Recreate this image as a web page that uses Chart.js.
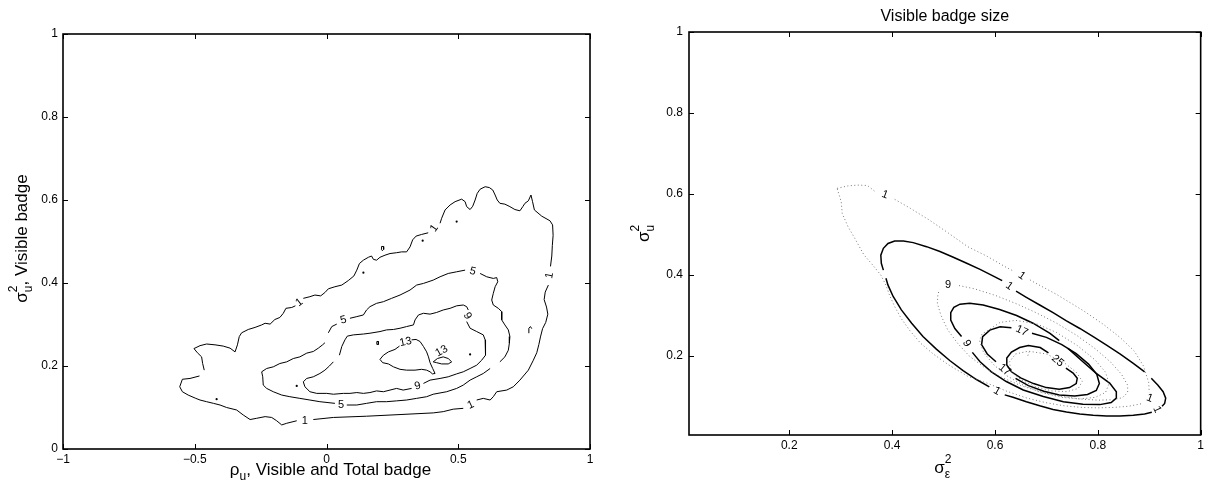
<!DOCTYPE html>
<html>
<head>
<meta charset="utf-8">
<script src="https://cdn.jsdelivr.net/npm/chart.js@4.4.1/dist/chart.umd.min.js"></script>
<style>
html, body { margin: 0; padding: 0; background: #fff; }
#wrap { position: relative; width: 1207px; height: 490px; overflow: hidden; }
canvas { position: absolute; top: 0; }
</style>
</head>
<body>
<div id="wrap">
  <canvas id="left" width="600" height="490" style="left:0;width:600px;height:490px"></canvas>
  <canvas id="right" width="607" height="490" style="left:600px;width:607px;height:490px"></canvas>
</div>
<script>
// ---------- tick values and labels ----------
const leftXTicks = [-1, -0.5, 0, 0.5, 1];
const leftXTickLabels = ['\u22121', '\u22120.5', '0', '0.5', '1'];
const leftYTicks = [0, 0.2, 0.4, 0.6, 0.8, 1];
const leftYTickLabels = ['0', '0.2', '0.4', '0.6', '0.8', '1'];
const rightXTicks = [0.2, 0.4, 0.6, 0.8, 1];
const rightXTickLabels = ['0.2', '0.4', '0.6', '0.8', '1'];
const rightYTicks = [0.2, 0.4, 0.6, 0.8, 1];
const rightYTickLabels = ['0.2', '0.4', '0.6', '0.8', '1'];

// ---------- left panel: contour levels 1, 5, 9, 13 (null = break for a label) ----------
const level1Left = [
  [-0.482,0.176],[-0.518,0.170],[-0.547,0.168],[-0.557,0.150],[-0.547,0.138],[-0.525,0.130],[-0.496,0.122],
  [-0.480,0.118],[-0.455,0.114],[-0.429,0.110],[-0.404,0.106],[-0.379,0.100],[-0.341,0.094],[-0.316,0.082],
  [-0.290,0.071],[-0.265,0.074],[-0.233,0.078],[-0.208,0.076],[-0.189,0.068],[-0.170,0.058],[-0.151,0.062],
  [-0.113,0.068],null,[-0.050,0.071],[0.026,0.076],[0.152,0.079],[0.279,0.083],[0.405,0.087],[0.443,0.090],
  [0.481,0.096],[0.519,0.098],null,[0.570,0.118],[0.595,0.122],[0.621,0.118],[0.633,0.126],[0.646,0.138],
  [0.684,0.142],[0.709,0.150],[0.734,0.166],[0.766,0.190],[0.785,0.214],[0.798,0.232],[0.806,0.252],
  [0.812,0.270],[0.820,0.290],[0.832,0.305],[0.840,0.325],[0.835,0.342],[0.826,0.360],[0.830,0.378],
  [0.842,0.395],null,[0.850,0.440],[0.855,0.465],[0.857,0.490],[0.860,0.515],[0.858,0.540],[0.848,0.550],
  [0.817,0.561],[0.789,0.576],[0.782,0.596],[0.776,0.612],[0.766,0.598],[0.753,0.592],[0.745,0.584],
  [0.734,0.574],[0.715,0.577],[0.696,0.584],[0.677,0.590],[0.658,0.592],[0.648,0.600],[0.640,0.612],
  [0.631,0.624],[0.618,0.630],[0.602,0.632],[0.583,0.626],[0.572,0.616],[0.564,0.600],[0.555,0.585],
  [0.545,0.577],[0.532,0.584],[0.526,0.596],[0.513,0.602],[0.488,0.596],[0.469,0.588],[0.450,0.576],
  [0.437,0.556],[0.431,0.544],null,[0.386,0.521],[0.361,0.517],[0.340,0.513],[0.327,0.504],[0.317,0.487],
  [0.304,0.475],[0.285,0.475],[0.266,0.473],[0.241,0.471],[0.222,0.467],[0.203,0.462],[0.190,0.455],
  [0.178,0.457],[0.171,0.465],[0.159,0.462],[0.140,0.455],[0.125,0.447],[0.115,0.431],[0.104,0.417],
  [0.083,0.406],[0.058,0.395],[0.032,0.391],[0.007,0.386],[-0.006,0.377],[-0.022,0.369],[-0.044,0.371],
  [-0.063,0.367],[-0.088,0.363],null,[-0.118,0.345],[-0.132,0.341],[-0.154,0.339],[-0.164,0.327],
  [-0.177,0.317],[-0.196,0.312],[-0.214,0.301],[-0.233,0.303],[-0.246,0.299],[-0.271,0.293],[-0.297,0.288],
  [-0.322,0.280],[-0.331,0.271],[-0.338,0.251],[-0.347,0.234],[-0.366,0.243],[-0.392,0.248],[-0.423,0.251],
  [-0.455,0.253],[-0.480,0.249],[-0.503,0.242],[-0.490,0.232],[-0.474,0.222],[-0.470,0.206],[-0.464,0.190]
];
const level5Left = [
  [0.007,0.280],[0.020,0.295],[0.039,0.301],null,[0.089,0.315],[0.115,0.319],[0.140,0.323],[0.152,0.335],
  [0.165,0.343],[0.190,0.351],[0.216,0.355],[0.247,0.363],[0.279,0.371],[0.317,0.383],[0.342,0.395],
  [0.368,0.399],[0.405,0.407],[0.431,0.415],[0.462,0.423],[0.494,0.427],[0.526,0.431],null,[0.583,0.423],
  [0.608,0.415],[0.633,0.411],[0.646,0.413],[0.650,0.403],[0.640,0.391],[0.633,0.375],[0.627,0.359],
  [0.633,0.347],[0.652,0.339],[0.665,0.331],[0.665,0.311],[0.677,0.299],[0.690,0.287],[0.696,0.271],
  [0.694,0.255],[0.690,0.238],[0.677,0.222],[0.658,0.210],null,[0.621,0.194],[0.595,0.182],[0.570,0.174],
  [0.545,0.166],[0.519,0.154],[0.494,0.146],[0.456,0.138],[0.405,0.132],[0.380,0.126],[0.342,0.122],
  [0.304,0.118],[0.266,0.116],[0.228,0.114],[0.190,0.114],[0.152,0.110],[0.115,0.106],[0.077,0.106],null,
  [0.032,0.110],[-0.025,0.114],[-0.063,0.118],[-0.101,0.122],[-0.139,0.126],[-0.170,0.130],[-0.202,0.138],
  [-0.227,0.146],[-0.240,0.154],[-0.242,0.174],[-0.246,0.186],[-0.227,0.194],[-0.202,0.198],[-0.177,0.206],
  [-0.151,0.210],[-0.126,0.218],[-0.101,0.222],[-0.075,0.231],[-0.050,0.235],[-0.031,0.243],[-0.015,0.251],
  [-0.006,0.256]
];
const level9Left = [
  [0.049,0.226],[0.058,0.247],[0.070,0.263],[0.079,0.272],[0.102,0.275],[0.140,0.277],[0.165,0.279],
  [0.203,0.283],[0.228,0.287],[0.254,0.288],[0.279,0.291],[0.304,0.295],[0.330,0.299],[0.336,0.311],
  [0.349,0.323],[0.368,0.327],[0.393,0.325],[0.418,0.329],[0.443,0.335],[0.469,0.339],[0.494,0.345],
  [0.519,0.347],[0.532,0.343],[0.538,0.335],null,[0.532,0.307],[0.545,0.291],[0.570,0.283],[0.595,0.275],
  [0.602,0.263],[0.605,0.247],[0.602,0.226],[0.589,0.214],[0.570,0.202],[0.545,0.194],[0.519,0.186],
  [0.494,0.181],[0.462,0.174],[0.431,0.170],[0.393,0.166],[0.368,0.158],null,[0.323,0.146],[0.291,0.142],
  [0.266,0.146],[0.241,0.142],[0.216,0.138],[0.190,0.140],[0.165,0.136],[0.140,0.134],[0.115,0.136],
  [0.089,0.134],[0.064,0.134],[0.026,0.132],[0.001,0.134],[-0.037,0.134],[-0.063,0.138],[-0.082,0.150],
  [-0.088,0.162],[-0.075,0.170],[-0.050,0.174],[-0.025,0.182],[-0.006,0.190],[0.011,0.200],[0.026,0.210]
];
const level13Left = [
  [0.323,0.263],[0.340,0.264],[0.355,0.259],[0.368,0.247],[0.380,0.234],[0.387,0.222],[0.393,0.208],
  [0.403,0.194],[0.412,0.182],[0.402,0.181],[0.393,0.186],[0.380,0.190],[0.361,0.192],[0.336,0.190],
  [0.304,0.190],[0.279,0.192],[0.254,0.198],[0.235,0.205],[0.213,0.208],[0.203,0.216],[0.216,0.226],
  [0.235,0.234],[0.260,0.240],[0.277,0.248]
];
const level13LeftB = [
  [0.405,0.210],[0.421,0.218],[0.443,0.222],[0.462,0.218],[0.475,0.210],[0.462,0.205],[0.437,0.205],
  [0.418,0.208],[0.405,0.210]
];
// tiny closed pieces of the level-1 contour
const smallLoopsLeft = [
  [0.768,0.279],[0.768,0.291],[0.774,0.295],[0.779,0.290],null,
  [0.208,0.481],[0.209,0.488],[0.216,0.488],[0.217,0.481],[0.212,0.478],[0.208,0.481],null,
  [0.191,0.252],[0.191,0.259],[0.197,0.259],[0.197,0.252],[0.191,0.252]
];
const isolatedPointsLeft = [
  [0.494,0.548],[0.365,0.502],[0.140,0.425],[0.545,0.228],[-0.113,0.152],[-0.417,0.120]
];
// contour labels: x, y, text, rotation (deg)
const contourLabelsLeft = [
  [-0.103,0.353,'1',-38],[0.409,0.532,'1',-55],[0.846,0.418,'1',-80],[0.547,0.106,'1',-25],
  [-0.082,0.068,'1',0],[0.064,0.311,'5',-15],[0.555,0.428,'5',15],[0.055,0.106,'5',0],
  [0.535,0.321,'9',60],[0.346,0.152,'9',-15],[0.300,0.258,'13',-12],[0.437,0.236,'13',-30]
];

// ---------- right panel: solid contours ----------
const solid1Right = [
  [0.383,0.412],[0.379,0.429],[0.378,0.449],[0.383,0.466],[0.392,0.478],[0.405,0.484],[0.422,0.484],
  [0.441,0.480],[0.467,0.470],[0.493,0.458],[0.519,0.444],[0.545,0.429],[0.571,0.414],[0.596,0.398],
  [0.614,0.386],null,[0.641,0.360],[0.661,0.345],[0.687,0.326],[0.713,0.307],[0.739,0.287],[0.765,0.268],
  [0.791,0.248],[0.817,0.227],[0.843,0.205],[0.869,0.182],[0.891,0.161],null,[0.904,0.145],[0.917,0.128],
  [0.927,0.112],[0.932,0.096],[0.930,0.083],[0.925,0.076],null,[0.905,0.061],[0.891,0.057],[0.869,0.054],
  [0.843,0.052],[0.817,0.052],[0.791,0.054],[0.765,0.057],[0.739,0.062],[0.713,0.068],[0.687,0.077],
  [0.661,0.087],[0.635,0.098],[0.619,0.104],null,[0.589,0.124],[0.564,0.142],[0.538,0.164],[0.512,0.189],
  [0.486,0.217],[0.460,0.248],[0.438,0.281],[0.418,0.314],[0.402,0.347],[0.392,0.375],[0.388,0.392]
];
const solid9Right = [
  [0.535,0.248],[0.522,0.268],[0.514,0.289],[0.514,0.307],[0.520,0.320],[0.532,0.328],[0.551,0.330],
  [0.577,0.326],[0.609,0.315],[0.642,0.300],[0.674,0.281],[0.707,0.256],[0.725,0.238],null,[0.742,0.219],
  [0.771,0.186],[0.797,0.157],[0.823,0.133],[0.836,0.112],[0.836,0.096],[0.826,0.085],[0.804,0.080],
  [0.771,0.081],[0.733,0.087],[0.694,0.100],[0.655,0.116],[0.622,0.137],[0.593,0.161],[0.571,0.186],
  [0.556,0.209]
];
const solid17Right = [
  [0.672,0.256],[0.700,0.246],[0.730,0.228],[0.758,0.206],[0.782,0.180],[0.798,0.155],[0.803,0.132],
  [0.797,0.115],[0.780,0.105],[0.755,0.101],[0.725,0.104],[0.695,0.113],[0.665,0.127],[0.640,0.145],null,
  [0.602,0.186],[0.585,0.205],[0.574,0.228],[0.576,0.248],[0.590,0.264],[0.610,0.272],[0.632,0.270]
];
const solid25Right = [
  [0.704,0.208],null,[0.738,0.170],[0.752,0.158],[0.760,0.145],[0.758,0.132],[0.745,0.122],[0.725,0.118],
  [0.700,0.122],[0.675,0.132],[0.650,0.146],[0.632,0.161],[0.623,0.178],[0.623,0.195],[0.632,0.210],
  [0.648,0.221],[0.665,0.226],[0.688,0.221],[0.704,0.208]
];
// ---------- right panel: dotted contours ----------
const dotted1Right = [
  [0.293,0.614],[0.314,0.620],[0.333,0.622],[0.352,0.621],[0.366,0.607],null,[0.405,0.587],[0.435,0.565],
  [0.472,0.536],[0.510,0.503],[0.547,0.470],[0.585,0.446],[0.619,0.421],[0.637,0.409],null,[0.668,0.388],
  [0.679,0.380],[0.720,0.352],[0.773,0.311],[0.811,0.278],[0.844,0.245],[0.871,0.212],[0.889,0.175],
  [0.899,0.134],[0.900,0.110],null,[0.884,0.082],[0.860,0.076],[0.830,0.073],[0.800,0.072],[0.770,0.073],
  [0.735,0.077],[0.698,0.085],[0.660,0.097],[0.623,0.113],[0.585,0.133],[0.547,0.150],[0.510,0.178],
  [0.480,0.205],[0.455,0.232],[0.435,0.262],[0.418,0.292],[0.405,0.322],[0.395,0.350],[0.388,0.375],
  [0.378,0.400],[0.362,0.425],[0.345,0.450],[0.329,0.487],[0.314,0.520],[0.303,0.552],[0.301,0.581],
  [0.293,0.614]
];
const dotted9Right = [
  [0.530,0.374],[0.560,0.366],[0.600,0.350],[0.640,0.330],[0.680,0.307],[0.720,0.281],[0.760,0.250],
  [0.795,0.218],[0.825,0.185],[0.846,0.155],[0.858,0.128],[0.858,0.110],[0.848,0.097],[0.828,0.092],
  [0.800,0.091],[0.765,0.094],[0.730,0.100],[0.690,0.111],[0.650,0.127],[0.612,0.148],[0.578,0.173],
  [0.550,0.200],[0.527,0.232],[0.508,0.265],[0.495,0.300],[0.488,0.330],[0.489,0.352],[0.492,0.364]
];
const dotted17Right = [
  [0.585,0.262],[0.610,0.283],[0.640,0.288],[0.680,0.280],[0.720,0.258],[0.760,0.226],[0.795,0.190],
  [0.815,0.160],[0.822,0.132],[0.815,0.110],[0.795,0.098],[0.765,0.094],[0.730,0.098],[0.690,0.110],
  [0.655,0.128],[0.622,0.152],[0.598,0.178],[0.578,0.208],[0.570,0.238],[0.575,0.255],[0.585,0.262]
];
const dotted25Right = [
  [0.640,0.205],[0.665,0.212],[0.700,0.205],[0.735,0.183],[0.758,0.160],[0.770,0.138],[0.762,0.120],
  [0.740,0.112],[0.710,0.114],[0.680,0.124],[0.652,0.140],[0.632,0.160],[0.628,0.185],[0.640,0.205],null,
  [0.664,0.201],[0.666,0.210],[0.671,0.212]
];
const contourLabelsRight = [
  [0.386,0.598,'1',20],[0.652,0.398,'1',35],[0.628,0.373,'1',35],[0.509,0.375,'9',0],
  [0.545,0.231,'9',60],[0.652,0.262,'17',25],[0.619,0.166,'17',40],[0.722,0.188,'25',40],
  [0.901,0.096,'1',20],[0.915,0.068,'1',65],[0.604,0.113,'1',30]
];

// ---------- drawing helpers ----------
const FONT = '"Liberation Sans", Arial, Helvetica, sans-serif';

function toPoints(arr) {
  return arr.map(p => p ? { x: p[0], y: p[1] } : { x: NaN, y: NaN });
}
function contourSet(arr, color, width, dash) {
  return {
    data: toPoints(arr), showLine: true, spanGaps: false, tension: 0,
    borderColor: color, borderWidth: width, borderDash: dash || [],
    pointRadius: 0, pointHoverRadius: 0, fill: false
  };
}
function axisCfg(min, max, ticks, labels, size, pad, isX) {
  return {
    type: 'linear', min: min, max: max,
    grid: { display: false, drawTicks: false },
    border: { display: false },
    afterBuildTicks: ax => { ax.ticks = ticks.map(v => ({ value: v })); },
    afterFit: ax => { if (isX) ax.height = size; else ax.width = size; },
    ticks: {
      padding: pad, color: '#000', autoSkip: false, maxRotation: 0,
      font: { family: FONT, size: 12 },
      callback: v => { const i = ticks.indexOf(v); return i >= 0 ? labels[i] : ''; }
    }
  };
}
// frame box with inward tick marks on all four sides
function drawFrame(chart, xt, yt) {
  const { ctx, chartArea: a, scales } = chart;
  ctx.save();
  ctx.strokeStyle = '#000';
  ctx.lineWidth = 1;
  ctx.beginPath();
  xt.forEach(v => {
    const px = Math.round(scales.x.getPixelForValue(v)) + 0.5;
    ctx.moveTo(px, a.bottom); ctx.lineTo(px, a.bottom - 5);
    ctx.moveTo(px, a.top); ctx.lineTo(px, a.top + 5);
  });
  yt.forEach(v => {
    const py = Math.round(scales.y.getPixelForValue(v)) + 0.5;
    ctx.moveTo(a.left, py); ctx.lineTo(a.left + 5, py);
    ctx.moveTo(a.right, py); ctx.lineTo(a.right - 5, py);
  });
  ctx.stroke();
  ctx.lineWidth = 1.6;
  ctx.strokeRect(a.left, a.top, a.right - a.left, a.bottom - a.top);
  ctx.restore();
}
function drawContourLabels(chart, labels) {
  const { ctx, scales } = chart;
  ctx.save();
  ctx.fillStyle = '#000';
  ctx.font = '11px ' + FONT;
  ctx.textAlign = 'center';
  ctx.textBaseline = 'middle';
  labels.forEach(([x, y, t, ang]) => {
    ctx.save();
    ctx.translate(scales.x.getPixelForValue(x), scales.y.getPixelForValue(y));
    ctx.rotate(ang * Math.PI / 180);
    ctx.fillText(t, 0, 0);
    ctx.restore();
  });
  ctx.restore();
}
// symbol with stacked superscript / subscript followed by plain text
function drawSymbolText(ctx, base, sup, sub, tail, cx, cy, rot) {
  const main = '17px ' + FONT, small = '12px ' + FONT;
  ctx.save();
  ctx.translate(cx, cy);
  ctx.rotate(rot);
  ctx.font = main;
  const wb = ctx.measureText(base).width;
  const wt = ctx.measureText(tail).width;
  ctx.font = small;
  const ws = Math.max(sup ? ctx.measureText(sup).width : 0, sub ? ctx.measureText(sub).width : 0);
  const total = wb + ws + wt;
  let x = -total / 2;
  const base0 = 5;
  ctx.fillStyle = '#000';
  ctx.textAlign = 'left';
  ctx.textBaseline = 'alphabetic';
  ctx.font = main;
  ctx.fillText(base, x, base0);
  x += wb;
  ctx.font = small;
  if (sup) ctx.fillText(sup, x, base0 - 10);
  if (sub) ctx.fillText(sub, x, base0 + 5);
  x += ws;
  ctx.font = main;
  ctx.fillText(tail, x, base0);
  ctx.restore();
}

// ---------- left panel ----------
const leftDecor = {
  id: 'leftDecor',
  afterDatasetsDraw(chart) {
    drawFrame(chart, leftXTicks, leftYTicks);
    drawContourLabels(chart, contourLabelsLeft);
    const { ctx, chartArea: a } = chart;
    drawSymbolText(ctx, '\u03C3', '2', 'u', ', Visible badge', 22, (a.top + a.bottom) / 2 - 3, -Math.PI / 2);
    drawSymbolText(ctx, '\u03C1', '', 'u', ', Visible and Total badge', (a.left + a.right) / 2 + 4, 470, 0);
  }
};
new Chart(document.getElementById('left'), {
  type: 'scatter',
  data: {
    datasets: [
      contourSet(level1Left, '#000', 1),
      contourSet(level5Left, '#000', 1),
      contourSet(level9Left, '#000', 1),
      contourSet(level13Left, '#000', 1),
      contourSet(level13LeftB, '#000', 1),
      contourSet(smallLoopsLeft, '#000', 1),
      {
        data: toPoints(isolatedPointsLeft), showLine: false,
        pointRadius: 1.1, pointBackgroundColor: '#000', pointBorderWidth: 0
      }
    ]
  },
  options: {
    responsive: false, animation: false, devicePixelRatio: 1,
    layout: { padding: { top: 34, right: 10, left: 0, bottom: 0 } },
    plugins: { legend: { display: false }, tooltip: { enabled: false }, title: { display: false } },
    scales: {
      x: axisCfg(-1, 1, leftXTicks, leftXTickLabels, 41, 3, true),
      y: axisCfg(0, 1, leftYTicks, leftYTickLabels, 63, 5, false)
    }
  },
  plugins: [leftDecor]
});

// ---------- right panel ----------
const rightDecor = {
  id: 'rightDecor',
  afterDatasetsDraw(chart) {
    drawFrame(chart, rightXTicks, rightYTicks);
    drawContourLabels(chart, contourLabelsRight);
    const { ctx, chartArea: a } = chart;
    ctx.save();
    ctx.fillStyle = '#000';
    ctx.font = '16px ' + FONT;
    ctx.textAlign = 'center';
    ctx.textBaseline = 'middle';
    ctx.fillText('Visible badge size', (a.left + a.right) / 2, 17);
    ctx.restore();
    drawSymbolText(ctx, '\u03C3', '2', 'u', '', 44, (a.top + a.bottom) / 2, -Math.PI / 2);
    drawSymbolText(ctx, '\u03C3', '2', '\u03B5', '', (a.left + a.right) / 2 - 2, 468, 0);
  }
};
new Chart(document.getElementById('right'), {
  type: 'scatter',
  data: {
    datasets: [
      contourSet(dotted1Right, '#777', 1, [1, 2.5]),
      contourSet(dotted9Right, '#777', 1, [1, 2.5]),
      contourSet(dotted17Right, '#777', 1, [1, 2.5]),
      contourSet(dotted25Right, '#777', 1, [1, 2.5]),
      contourSet(solid1Right, '#000', 1.5),
      contourSet(solid9Right, '#000', 1.5),
      contourSet(solid17Right, '#000', 1.5),
      contourSet(solid25Right, '#000', 1.5)
    ]
  },
  options: {
    responsive: false, animation: false, devicePixelRatio: 1,
    layout: { padding: { top: 32, right: 6, left: 0, bottom: 0 } },
    plugins: { legend: { display: false }, tooltip: { enabled: false }, title: { display: false } },
    scales: {
      x: axisCfg(0.005, 1, rightXTicks, rightXTickLabels, 55, 3, true),
      y: axisCfg(0.005, 1, rightYTicks, rightYTickLabels, 89, 6, false)
    }
  },
  plugins: [rightDecor]
});
</script>
</body>
</html>
